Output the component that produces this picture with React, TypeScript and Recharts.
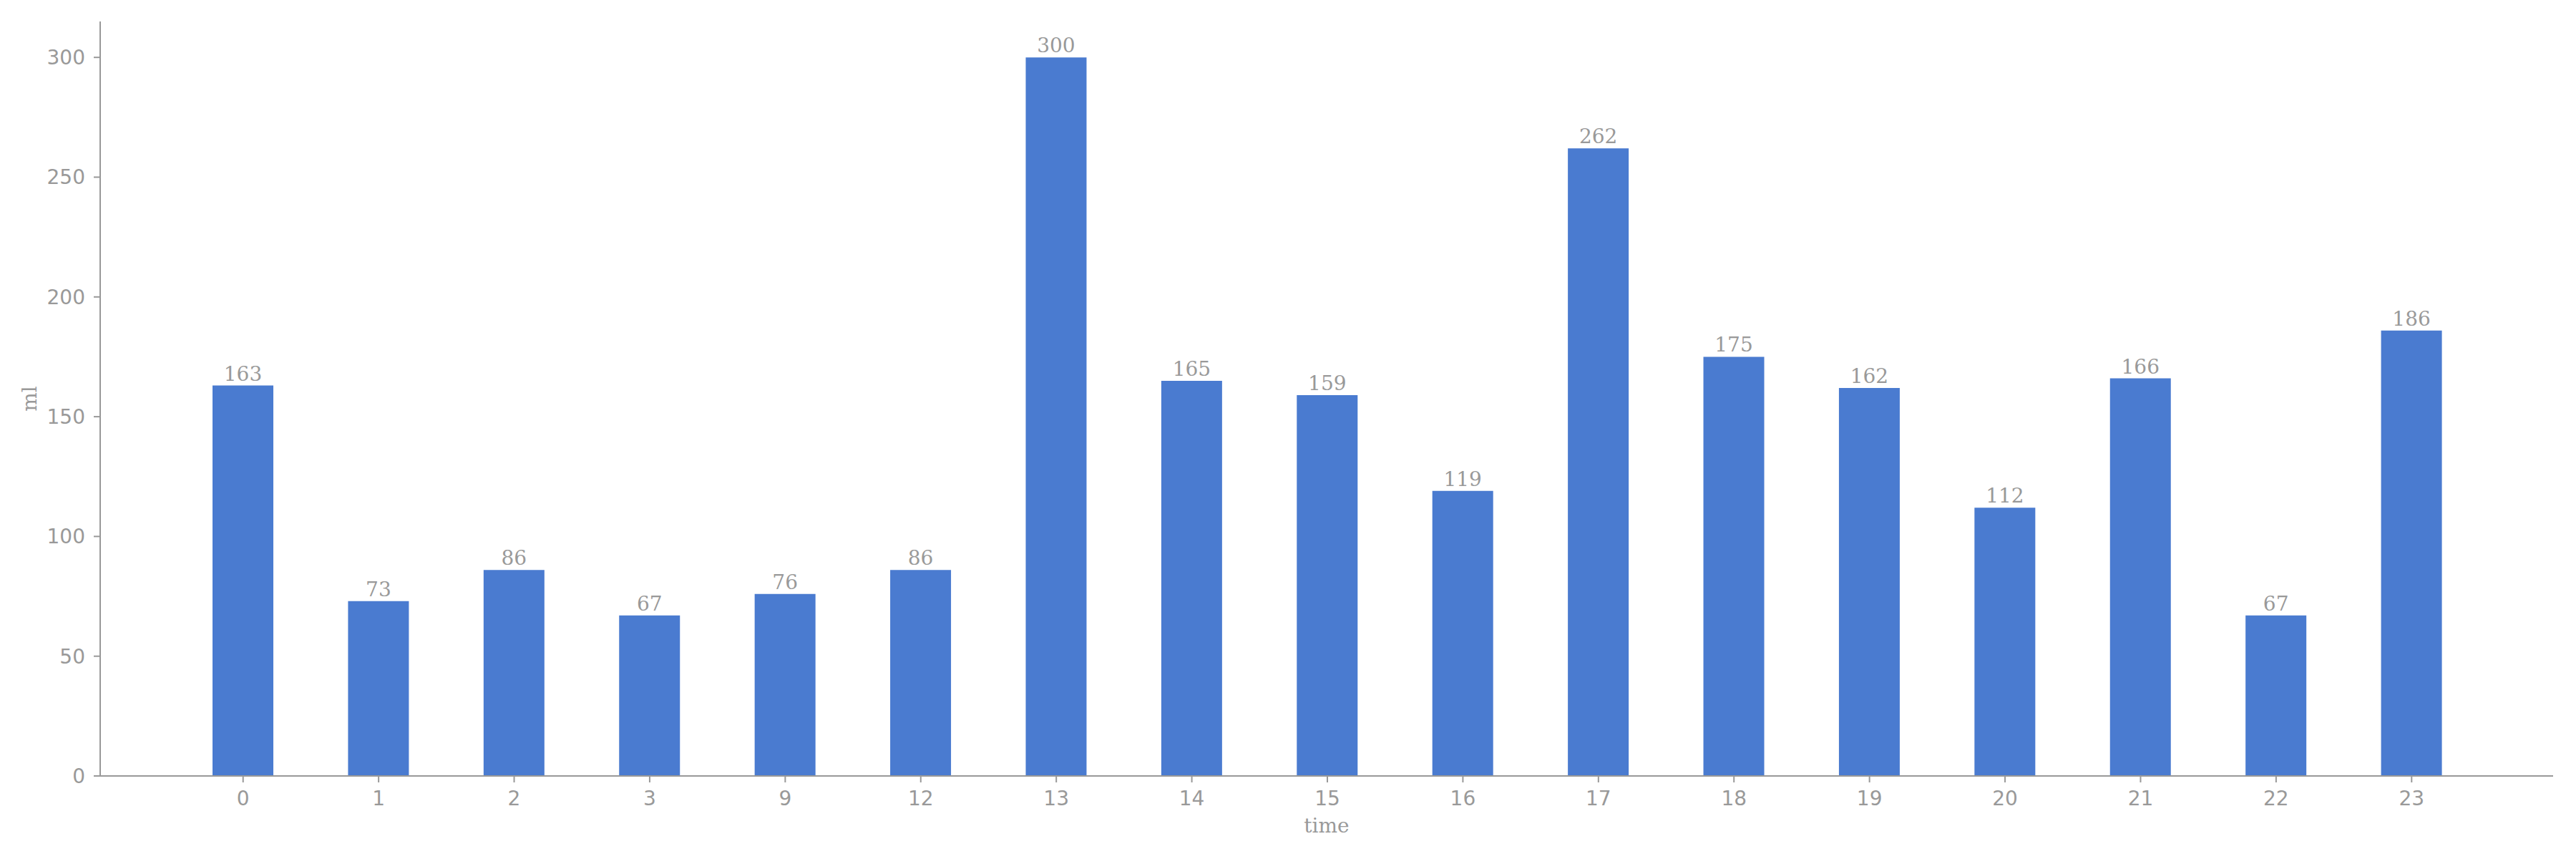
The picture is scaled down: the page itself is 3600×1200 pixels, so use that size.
import { BarChart, Bar, XAxis, YAxis, LabelList } from "recharts";

const hours = ["0", "1", "2", "3", "9", "12", "13", "14", "15", "16", "17", "18", "19", "20", "21", "22", "23"];
const volumes = [163, 73, 86, 67, 76, 86, 300, 165, 159, 119, 262, 175, 162, 112, 166, 67, 186];
const yTicks = [0, 50, 100, 150, 200, 250, 300];

const data = hours.map((h, i) => ({ time: h, ml: volumes[i] }));

const grey = "#999999";
const sans = "DejaVu Sans";
const serif = "DejaVu Serif";

export const App = () => {
	return (
		<div style={{ position: "absolute", left: 0, top: 0 }}>
			<BarChart
				width={3600}
				height={1200}
				data={data}
				margin={{ top: 30, right: 32, left: 0, bottom: 0 }}
			>
				<XAxis
					dataKey="time"
					height={116}
					padding={{ left: 105, right: 103 }}
					stroke={grey}
					strokeWidth={2}
					tickSize={9}
					tickMargin={12}
					tick={{ fill: grey, fontSize: 28, fontFamily: sans }}
					label={{
						value: "time",
						position: "insideBottom",
						offset: 37,
						fill: grey,
						fontSize: 28,
						fontFamily: serif,
					}}
				/>
				<YAxis
					width={140}
					domain={[0, 315]}
					ticks={yTicks}
					stroke={grey}
					strokeWidth={2}
					tickSize={9}
					tickMargin={12}
					tick={{ fill: grey, fontSize: 28, fontFamily: sans }}
					label={{
						value: "ml",
						angle: -90,
						position: "insideLeft",
						offset: 41,
						fill: grey,
						fontSize: 28,
						fontFamily: serif,
						style: { textAnchor: "middle" },
					}}
				/>
				<Bar dataKey="ml" fill="#4a7bd0" barSize={85} isAnimationActive={false}>
					<LabelList
						dataKey="ml"
						position="top"
						offset={7}
						fill={grey}
						fontSize={28}
						fontFamily={serif}
					/>
				</Bar>
			</BarChart>
		</div>
	);
};

export default App;
